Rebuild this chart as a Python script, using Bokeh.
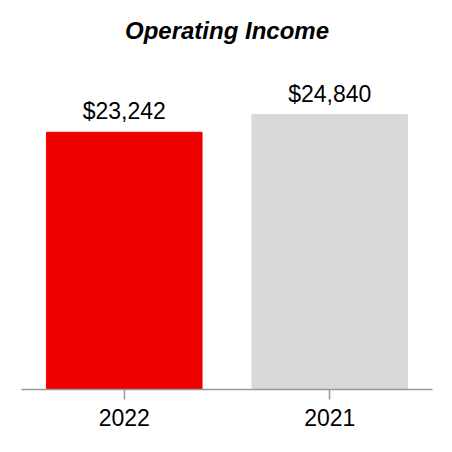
from bokeh.plotting import figure
from bokeh.models import ColumnDataSource, Range1d, LabelSet
from bokeh.core.properties import value
from bokeh.embed import file_html
from bokeh.resources import INLINE

years = ["2022", "2021"]
values = [23242, 24840]
labels = ["$23,242", "$24,840"]
colors = ["#EE0000", "#D8D9D8"]

src = ColumnDataSource(dict(x=years, top=values, label=labels, color=colors))

p = figure(x_range=years, y_range=Range1d(0, 30630), width=444, height=444,
           output_backend="svg", toolbar_location=None,
           min_border_left=21, min_border_right=12, min_border_bottom=55, min_border_top=50)
p.x_range.range_padding = 0
p.vbar(x="x", top="top", width=0.757, color="color", source=src)

p.add_layout(LabelSet(x="x", y="top", text="label", source=src, text_align="center",
                      text_baseline="alphabetic", y_offset=13, text_font_size="23px",
                      text_font=value("Liberation Sans"), text_color="#000000"))

p.title.text = "Operating Income"
p.title.align = "center"
p.title.text_font = "Liberation Sans"
p.title.text_font_size = "24px"
p.title.text_font_style = "bold italic"
p.title.text_color = "#000000"
p.title.standoff = 13

p.yaxis.visible = False
p.xgrid.visible = False
p.ygrid.visible = False
p.outline_line_color = None
p.xaxis.axis_line_color = "#999999"
p.xaxis.axis_line_width = 1.5
p.xaxis.major_tick_line_color = "#999999"
p.xaxis.major_tick_line_width = 1.5
p.xaxis.major_tick_out = 10
p.xaxis.major_tick_in = 0
p.xaxis.major_label_standoff = 9
p.xaxis.major_label_text_font = "Liberation Sans"
p.xaxis.major_label_text_font_size = "23px"
p.xaxis.major_label_text_color = "#000000"

open("out.html", "w").write(file_html(p, INLINE))
